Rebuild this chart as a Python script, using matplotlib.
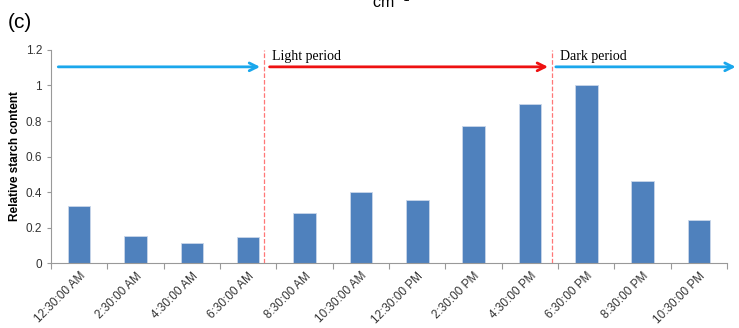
import matplotlib.pyplot as plt
import numpy as np

plt.rcParams['font.family'] = ['Liberation Sans', 'DejaVu Sans']

# Sampling times and relative starch content
times = ['12:30:00 AM', '2:30:00 AM', '4:30:00 AM', '6:30:00 AM',
         '8:30:00 AM', '10:30:00 AM', '12:30:00 PM', '2:30:00 PM',
         '4:30:00 PM', '6:30:00 PM', '8:30:00 PM', '10:30:00 PM']
starch = [0.32, 0.155, 0.115, 0.145, 0.28, 0.40, 0.355, 0.77,
          0.895, 1.0, 0.46, 0.245]

# period boundaries (in category units) and labels
light_start = 3.28
dark_start = 8.39
periods = ['Light period', 'Dark period']

fig = plt.figure(figsize=(7.39, 3.28), dpi=100)
ax = fig.add_axes([0.069, 0.198, 0.915, 0.6496])

x = np.arange(len(times))
ax.bar(x, starch, width=0.4, color='#4F81BD', edgecolor='#C9D6EA', linewidth=0.6)

ax.set_xlim(-0.5, len(times) - 0.5)
ax.set_ylim(0, 1.2)
ax.set_yticks([0, 0.2, 0.4, 0.6, 0.8, 1.0, 1.2])
ax.set_yticklabels(['0', '0.2', '0.4', '0.6', '0.8', '1', '1.2'], fontsize=8.5, color='#333333')

# Excel-style ticks between categories, labels at category centres
ax.set_xticks(np.arange(-0.5, len(times) + 0.5, 1))
ax.set_xticklabels([])
ax.set_xticks(x, minor=True)
ax.set_xticklabels(times, minor=True, rotation=45, ha='right', rotation_mode='anchor',
                   fontsize=8.5, color='#333333')
ax.tick_params(axis='x', which='minor', length=0, pad=5)
ax.tick_params(axis='x', which='major', length=4, color='#999999')
ax.tick_params(axis='y', length=3, color='#999999')

for side in ['top', 'right']:
    ax.spines[side].set_visible(False)
for side in ['left', 'bottom']:
    ax.spines[side].set_color('#999999')

ax.set_ylabel('Relative starch content', fontsize=8.5, fontweight='bold', labelpad=3)

# period boundaries
ax.axvline(light_start, color='#FF7777', linestyle='--', linewidth=0.9, clip_on=False)
ax.axvline(dark_start, color='#FF7777', linestyle='--', linewidth=0.9, clip_on=False)

# period arrows
arr_y = 1.105
ax.annotate('', xy=(light_start - 0.02, arr_y), xytext=(-0.42, arr_y),
            arrowprops=dict(arrowstyle='->', color='#1AA7EC', lw=2, mutation_scale=14),
            annotation_clip=False)
ax.annotate('', xy=(dark_start - 0.02, arr_y), xytext=(light_start + 0.05, arr_y),
            arrowprops=dict(arrowstyle='->', color='#EE1111', lw=2, mutation_scale=14),
            annotation_clip=False)
ax.annotate('', xy=(11.7, arr_y), xytext=(dark_start + 0.02, arr_y),
            arrowprops=dict(arrowstyle='->', color='#1AA7EC', lw=2, mutation_scale=14),
            annotation_clip=False)

ax.text(light_start + 0.15, 1.165, periods[0], fontsize=10, family='Liberation Serif',
        va='center', ha='left')
ax.text(dark_start + 0.15, 1.165, periods[1], fontsize=10, family='Liberation Serif',
        va='center', ha='left')

fig.text(0.011, 0.93, '(c)', fontsize=15, va='center', ha='left')
fig.text(0.503, 0.995, 'cm$^{-1}$', fontsize=11.5, va='center', ha='left')

fig.savefig('out.png', dpi=100)
